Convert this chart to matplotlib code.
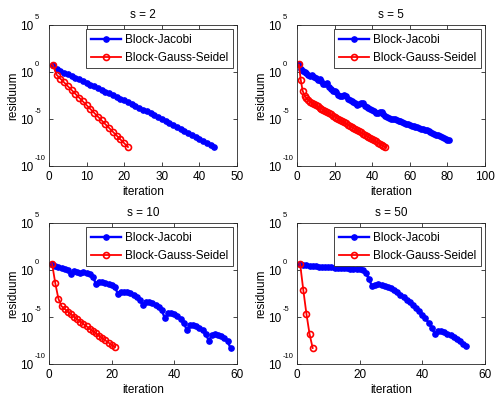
import numpy as np
import matplotlib
matplotlib.use("Agg")
import matplotlib.pyplot as plt

plt.rcParams['font.family'] = ['Liberation Sans', 'DejaVu Sans']

# log10 residuals
s_values = [2, 5, 10, 50]
xmax = [50, 100, 60, 60]
ytick_exponents = [-10, -5, 0, 5]

jac_s2 = [0.78, 0.30, 0.12, -0.06, -0.24, -0.42, -0.61, -0.79, -0.97, -1.15,
          -1.34, -1.52, -1.71, -1.89, -2.08, -2.26, -2.45, -2.63, -2.82, -3.00,
          -3.20, -3.40, -3.60, -3.80, -4.00, -4.20, -4.40, -4.60, -4.80, -5.00,
          -5.21, -5.42, -5.63, -5.84, -6.05, -6.26, -6.47, -6.68, -6.89, -7.10,
          -7.32, -7.55, -7.77, -8.00]
gs_s2 = [0.78, -0.29, -0.70, -1.10, -1.51, -1.91, -2.32, -2.72, -3.13, -3.53,
         -3.94, -4.34, -4.75, -5.15, -5.56, -5.96, -6.37, -6.77, -7.18, -7.58,
         -7.98]

jac_s5 = [0.80, 0.35, 0.10, 0.05, -0.10, -0.30, -0.45, -0.30, -0.50, -0.65,
          -0.80, -0.70, -0.95, -1.30, -1.30, -1.15, -1.55, -1.80, -2.00, -2.05,
          -2.10, -2.40, -2.60, -2.55, -2.40, -2.60, -2.90, -3.00, -3.05, -3.15,
          -3.35, -3.50, -3.45, -3.30, -3.35, -3.60, -3.75, -3.85, -3.95, -4.00,
          -4.15, -4.35, -4.40, -4.25, -4.25, -4.45, -4.65, -4.75, -4.85, -4.95,
          -5.00, -5.05, -5.15, -5.20, -5.25, -5.35, -5.40, -5.50, -5.55, -5.65,
          -5.70, -5.78, -5.85, -5.90, -5.95, -6.02, -6.08, -6.15, -6.22, -6.30,
          -6.38, -6.48, -6.56, -6.65, -6.73, -6.82, -6.92, -7.02, -7.10, -7.20,
          -7.28]
gs_s5 = [0.80, -0.85, -2.00, -2.50, -2.78, -2.98, -3.14, -3.29, -3.42, -3.55,
         -3.67, -3.79, -3.91, -4.03, -4.15, -4.27, -4.39, -4.51, -4.63, -4.75,
         -4.87, -4.99, -5.11, -5.23, -5.35, -5.47, -5.59, -5.71, -5.83, -5.95,
         -6.07, -6.19, -6.31, -6.43, -6.55, -6.67, -6.79, -6.91, -7.03, -7.15,
         -7.27, -7.39, -7.51, -7.63, -7.75, -7.87, -7.99]

jac_s10 = [0.65, 0.45, 0.35, 0.25, 0.10, -0.05, -0.45, -0.15, -0.22, -0.28,
           -0.25, -0.30, -0.45, -0.70, -1.50, -1.25, -1.28, -1.35, -1.45, -1.60,
           -1.85, -2.50, -2.30, -2.32, -2.38, -2.48, -2.62, -2.85, -3.20, -3.75,
           -3.40, -3.45, -3.55, -3.70, -3.95, -4.30, -5.15, -4.55, -4.58, -4.72,
           -4.92, -5.20, -5.60, -6.40, -5.85, -5.88, -5.98, -6.15, -6.40, -6.80,
           -7.50, -6.95, -6.85, -6.95, -7.05, -7.25, -7.60, -8.35]
gs_s10 = [0.64, -1.40, -3.05, -3.85, -4.15, -4.43, -4.70, -4.97, -5.23, -5.49,
          -5.75, -6.00, -6.25, -6.50, -6.75, -7.00, -7.25, -7.49, -7.73, -7.97,
          -8.20]

jac_s50 = [0.64, 0.55, 0.50, 0.46, 0.43, 0.40, 0.37, 0.34, 0.31, 0.29,
           0.27, 0.25, 0.23, 0.21, 0.19, 0.17, 0.15, 0.13, 0.11, 0.09,
           0.00, -0.35, -1.00, -1.75, -1.55, -1.50, -1.55, -1.65, -1.78, -1.95,
           -2.15, -2.38, -2.62, -2.88, -3.15, -3.45, -3.75, -4.05, -4.40, -4.75,
           -5.15, -5.60, -6.15, -6.80, -6.50, -6.50, -6.62, -6.78, -6.95, -7.15,
           -7.35, -7.58, -7.82, -8.10]
gs_s50 = [0.63, -2.10, -4.65, -6.80, -8.30]

jacobi = [jac_s2, jac_s5, jac_s10, jac_s50]
gauss = [gs_s2, gs_s5, gs_s10, gs_s50]

W, H = 495, 398
fig = plt.figure(figsize=(W / 100, H / 100), dpi=100)

lefts = [49, 297, 49, 297]
tops = [25, 25, 223, 223]
aw, ah = 188, 141

axc = (0.15, 0.15, 0.15)
fs = 8.5
px = 0.72  # points per pixel at 100 dpi

for i in range(4):
    l, t = lefts[i], tops[i]
    ax = fig.add_axes([l / W, 1 - (t + ah) / H, aw / W, ah / H])
    yj = 10.0 ** np.array(jacobi[i])
    yg = 10.0 ** np.array(gauss[i])
    xj = np.arange(1, len(yj) + 1)
    xg = np.arange(1, len(yg) + 1)
    ax.semilogy(xj, yj, '-o', color='blue', lw=1.7, ms=3.8,
                mfc='blue', mec='blue', label='Block-Jacobi')
    ax.semilogy(xg, yg, '-o', color='red', lw=1.3, ms=4.3,
                mfc='none', mec='red', mew=1.2, label='Block-Gauss-Seidel')
    ax.set_xlim(0, xmax[i])
    ax.set_ylim(1e-10, 1e5)
    yt = [10.0 ** e for e in ytick_exponents]
    ax.set_yticks(yt)
    ax.set_yticklabels([''] * len(yt))
    ax.yaxis.set_minor_locator(matplotlib.ticker.NullLocator())
    for e, v in zip(ytick_exponents, yt):
        ax.annotate('10', xy=(0, v), xycoords=('axes fraction', 'data'),
                    xytext=(-15.5 * px, -2 * px), textcoords='offset points',
                    ha='right', va='center', fontsize=fs, annotation_clip=False)
        ax.annotate('%d' % e, xy=(0, v), xycoords=('axes fraction', 'data'),
                    xytext=(-14.5 * px, 7.5 * px), textcoords='offset points',
                    ha='left', va='center', fontsize=5.5, annotation_clip=False)
    step = 10 if xmax[i] == 50 else 20
    ax.set_xticks(np.arange(0, xmax[i] + 1, step))
    ax.tick_params(direction='in', top=True, right=True, length=3,
                   width=0.6, colors=axc, labelsize=fs, labelcolor='black')
    for sp in ax.spines.values():
        sp.set_color(axc)
        sp.set_linewidth(0.6)
    ax.set_title('s = %d' % s_values[i], fontsize=fs, pad=5)
    ax.set_xlabel('iteration', fontsize=fs, labelpad=2.5)
    ax.set_ylabel('residuum', fontsize=fs)
    ax.yaxis.set_label_coords(-30.0 / aw, 0.5)
    leg = ax.legend(loc='upper right', fontsize=fs, fancybox=False,
                    framealpha=1, edgecolor=axc, borderaxespad=0.35,
                    handlelength=2.6, labelspacing=0.5, borderpad=0.4,
                    handletextpad=0.3)
    leg.get_frame().set_linewidth(0.6)

fig.savefig('out.png', dpi=100)
